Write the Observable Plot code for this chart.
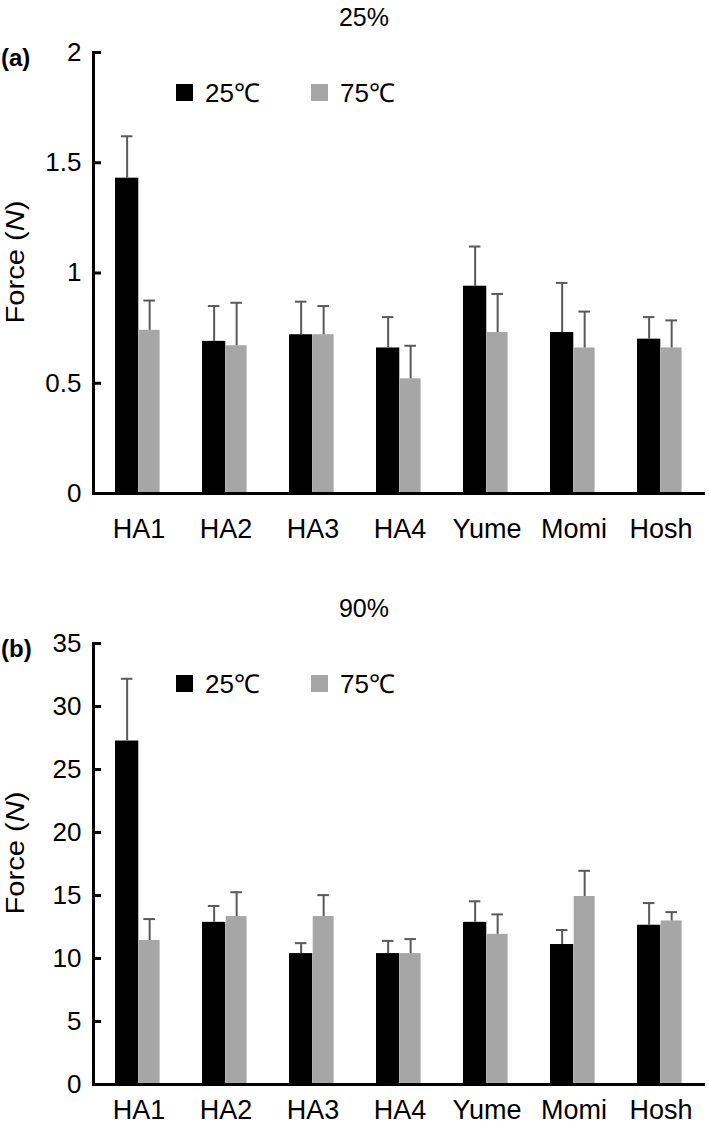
<!DOCTYPE html>
<html>
<head>
<meta charset="utf-8">
<script src="https://cdn.jsdelivr.net/npm/d3@7"></script>
<script src="https://cdn.jsdelivr.net/npm/@observablehq/plot@0.6"></script>
<style>
  body { margin: 0; background: #fff; }
  svg { display: block; }
</style>
</head>
<body>
<div id="chart"></div>
<script>
// ---------- data ----------
const categories = ["HA1", "HA2", "HA3", "HA4", "Yume", "Momi", "Hosh"];
const series = ["25\u2103", "75\u2103"];

// (a) 25%
const forceA25 = [1.43, 0.69, 0.72, 0.66, 0.94, 0.73, 0.70];
const errA25   = [0.19, 0.16, 0.15, 0.14, 0.18, 0.225, 0.10];
const forceA75 = [0.74, 0.67, 0.72, 0.52, 0.73, 0.66, 0.66];
const errA75   = [0.135, 0.195, 0.13, 0.15, 0.175, 0.165, 0.125];
const ticksA   = [0, 0.5, 1, 1.5, 2];

// (b) 90%
const forceB25 = [27.26, 12.87, 10.39, 10.39, 12.87, 11.11, 12.64];
const errB25   = [4.94, 1.30, 0.83, 1.01, 1.67, 1.15, 1.76];
const forceB75 = [11.43, 13.33, 13.33, 10.39, 11.92, 14.92, 12.98];
const errB75   = [1.70, 1.93, 1.70, 1.15, 1.58, 2.04, 0.70];
const ticksB   = [0, 5, 10, 15, 20, 25, 30, 35];

const panelTitles = ["25%", "90%"];
const panelTags = ["(a)", "(b)"];
const colors = ["#000000", "#a6a6a6"];
const errColor = "#595959";
const font = "'Liberation Sans', Arial, Helvetica, sans-serif";

// ---------- layout ----------
const W = 709, ML = 93, MR = 4, MT = 52, AXIS_Y = 493;
const bw = (W - ML - MR) / categories.length;
const blackL = 20, split = 43.7, grayR = 22.4;
const c25 = (blackL + split) / 2;
const c75 = (split + bw - grayR) / 2;
const capHalf = 6;

const panels = [
  {title: panelTitles[0], tag: panelTags[0], v25: forceA25, e25: errA25, v75: forceA75, e75: errA75, ticks: ticksA, height: 591, labelPad: 25},
  {title: panelTitles[1], tag: panelTags[1], v25: forceB25, e25: errB25, v75: forceB75, e75: errB75, ticks: ticksB, height: 536, labelPad: 15}
];

function makePanel(p) {
  const r25 = categories.map((c, i) => ({cat: c, s: series[0], v: p.v25[i], e: p.e25[i]}));
  const r75 = categories.map((c, i) => ({cat: c, s: series[1], v: p.v75[i], e: p.e75[i]}));
  const yMax = p.ticks[p.ticks.length - 1];

  const svg = Plot.plot({
    width: W,
    height: p.height,
    marginTop: MT,
    marginBottom: p.height - AXIS_Y,
    marginLeft: ML,
    marginRight: MR,
    style: {fontFamily: font, fontSize: "25px", color: "#000", background: "#fff"},
    x: {domain: categories, padding: 0, label: null},
    y: {domain: [0, yMax], label: null},
    marks: [
      Plot.barY(r25, {x: "cat", y: "v", fill: colors[0], insetLeft: blackL, insetRight: bw - split}),
      Plot.barY(r75, {x: "cat", y: "v", fill: colors[1], insetLeft: split, insetRight: grayR}),
      Plot.ruleX(r25, {x: "cat", y1: "v", y2: d => d.v + d.e, dx: c25 - bw / 2, stroke: errColor, strokeWidth: 2}),
      Plot.ruleX(r75, {x: "cat", y1: "v", y2: d => d.v + d.e, dx: c75 - bw / 2, stroke: errColor, strokeWidth: 2}),
      Plot.tickY(r25, {x: "cat", y: d => d.v + d.e, insetLeft: c25 - capHalf, insetRight: bw - c25 - capHalf, stroke: errColor, strokeWidth: 2}),
      Plot.tickY(r75, {x: "cat", y: d => d.v + d.e, insetLeft: c75 - capHalf, insetRight: bw - c75 - capHalf, stroke: errColor, strokeWidth: 2}),
      Plot.ruleY([0], {strokeWidth: 3}),
      Plot.frame({anchor: "left", strokeWidth: 3}),
      Plot.axisY(p.ticks, {tickSize: -8, tickPadding: 20, strokeWidth: 3, fontSize: 26, tickFormat: d => String(d), label: null}),
      Plot.axisX({tickSize: 0, tickPadding: p.labelPad, fontSize: 27, label: null})
    ]
  });

  const s = d3.select(svg);
  // panel title
  s.append("text").attr("x", 364).attr("y", 26).attr("text-anchor", "middle")
    .style("font-family", font).style("font-size", "25px").attr("fill", "#000").text(p.title);
  // panel tag
  s.append("text").attr("x", 1).attr("y", 66).attr("text-anchor", "start")
    .style("font-family", font).style("font-size", "24px").style("font-weight", "bold").attr("fill", "#000").text(p.tag);
  // y label
  const yl = s.append("text").attr("transform", "translate(24,262) rotate(-90)").attr("text-anchor", "middle")
    .style("font-family", font).style("font-size", "26px").attr("fill", "#000")
    .attr("textLength", 123).attr("lengthAdjust", "spacingAndGlyphs");
  yl.append("tspan").text("Force (");
  yl.append("tspan").style("font-style", "italic").text("N");
  yl.append("tspan").text(")");
  // legend
  const legendX = [176, 311];
  series.forEach((name, i) => {
    s.append("rect").attr("x", legendX[i]).attr("y", 84).attr("width", 17).attr("height", 17).attr("fill", colors[i]);
    s.append("text").attr("x", legendX[i] + 29).attr("y", 102).attr("text-anchor", "start")
      .style("font-family", font).style("font-size", "26px").attr("fill", "#000").text(name);
  });
  return svg;
}

const root = document.getElementById("chart");
panels.forEach(p => root.appendChild(makePanel(p)));
</script>
</body>
</html>
